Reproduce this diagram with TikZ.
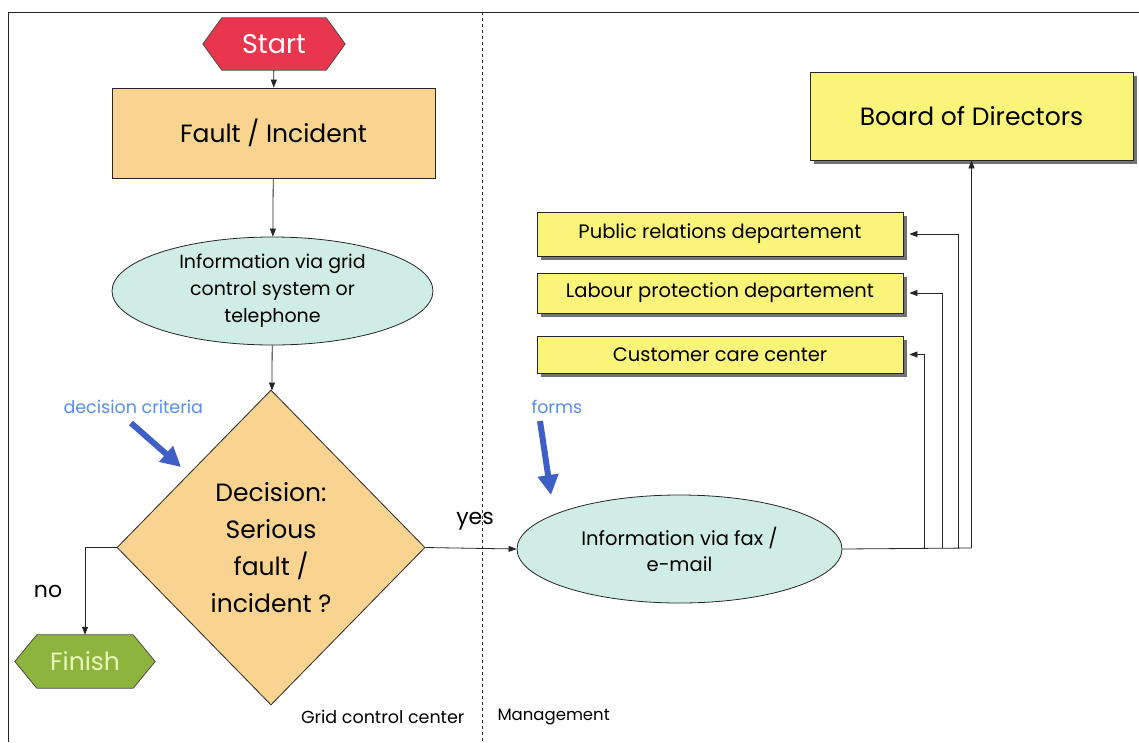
\documentclass[tikz,border=0pt]{standalone}
\usepackage{fontspec}
\setmainfont{Poppins}
\usetikzlibrary{shapes.geometric,arrows.meta,shadows,backgrounds,calc}

\definecolor{startred}{HTML}{E8364F}
\definecolor{faultor}{HTML}{F9D491}
\definecolor{infoteal}{HTML}{CFEDE4}
\definecolor{finishgreen}{HTML}{8DB43C}
\definecolor{finishtext}{HTML}{EAF9B8}
\definecolor{deptyellow}{HTML}{FAF47A}
\definecolor{noteblue}{HTML}{5B8DEB}
\definecolor{pointblue}{HTML}{3F5FC8}

\begin{document}
\begin{tikzpicture}[x=1pt,y=-1pt,
  outline/.style={draw=black!85, line width=0.8pt},
  conn/.style={draw=black!85, line width=0.8pt, -{Triangle[length=8pt,width=6pt]}},
  plain/.style={draw=black!85, line width=0.8pt},
  hexnode/.style={inner sep=0pt},
  faultbox/.style={outline, fill=faultor, inner sep=0pt},
  infoell/.style={outline, ellipse, fill=infoteal, inner sep=0pt, align=center},
  deptbox/.style={outline, fill=deptyellow, inner sep=0pt,
    drop shadow={shadow xshift=4pt, shadow yshift=-4pt, fill=black!55, opacity=1}},
  pointer/.style={draw=pointblue, line width=6pt, -{Triangle[length=20pt,width=20pt]}},
  note/.style={text=noteblue, font=\fontsize{17.5}{20}\selectfont}
]
\useasboundingbox (0,0) rectangle (1139,742);

% page frame and column divider
\draw[black!85, line width=1pt] (8,742) -- (8,12) -- (1139,12);
\draw[black!85, line width=0.8pt, dashed] (482,12) -- (482,742);

% start / finish terminals
\node[hexnode, minimum width=142, minimum height=52, text=white,
  font=\fontsize{27}{30}\selectfont] (start) at (274,44) {Start};
\node[hexnode, minimum width=140, minimum height=53, text=finishtext,
  font=\fontsize{25}{28}\selectfont] (finish) at (85,661.5) {Finish};
\begin{scope}[on background layer]
  \fill[white] (0,0) rectangle (1139,742);
  \filldraw[fill=startred, draw=black!70, line width=0.8pt]
    (start.west) -- ($(start.north west)+(19,0)$) -- ($(start.north east)+(-19,0)$)
    -- (start.east) -- ($(start.south east)+(-19,0)$) -- ($(start.south west)+(19,0)$) -- cycle;
  \filldraw[fill=finishgreen, draw=black!70, line width=0.8pt]
    (finish.west) -- ($(finish.north west)+(22,0)$) -- ($(finish.north east)+(-22,0)$)
    -- (finish.east) -- ($(finish.south east)+(-22,0)$) -- ($(finish.south west)+(22,0)$) -- cycle;
\end{scope}

% grid control centre column
\node[faultbox, minimum width=323, minimum height=90, font=\fontsize{25}{28}\selectfont]
  (fault) at (273.5,133) {Fault / Incident};
\node[infoell, minimum width=321, minimum height=108, font=\fontsize{19}{27}\selectfont]
  (grid) at (272.5,291) {Information via grid\\control system or\\telephone};
\node[outline, diamond, fill=faultor, minimum width=308, minimum height=315, inner sep=0pt,
  align=center, font=\fontsize{25}{37}\selectfont]
  (dec) at (271,547.5) {Decision:\\Serious\\fault /\\incident ?};

\draw[conn] (start) -- (fault);
\draw[conn] (fault) -- (grid);
\draw[conn] (grid) -- (dec);
\draw[conn] (dec.west) -| (finish.north);
\node[font=\fontsize{22}{26}\selectfont] (nolbl) at (48,591) {no};

% management column
\node[infoell, minimum width=325, minimum height=108, font=\fontsize{19.5}{26}\selectfont]
  (fax) at (679.5,549) {Information via fax /\\e-mail};
\draw[conn] (dec.east) -- (fax.west);
\node[font=\fontsize{22}{26}\selectfont] (yeslbl) at (475,521) {yes};

\node[deptbox, minimum width=323, minimum height=88, font=\fontsize{25}{28}\selectfont]
  (board) at (971.5,116) {Board of Directors};
\node[deptbox, minimum width=366, minimum height=44, font=\fontsize{19.5}{22}\selectfont]
  (pr) at (720,234) {Public relations departement};
\node[deptbox, minimum width=366, minimum height=40, font=\fontsize{19.5}{22}\selectfont]
  (lab) at (720,293) {Labour protection departement};
\node[deptbox, minimum width=366, minimum height=37, font=\fontsize{19.5}{22}\selectfont]
  (cust) at (720,354.5) {Customer care center};

% distribution from the fax / e-mail step
\coordinate (jc) at (924,548);
\coordinate (jl) at (942,548);
\coordinate (jp) at (958,548);
\coordinate (jb) at (971.5,548);
\draw[plain] (fax.east) -- (jb);
\draw[conn] (jc) -- (jc |- cust.east) -- ($(cust.east)+(6,0)$);
\draw[conn] (jl) -- (jl |- lab.east) -- ($(lab.east)+(6,0)$);
\draw[conn] (jp) -- (jp |- pr.east) -- ($(pr.east)+(6,0)$);
\draw[conn] (jb) -- (board.south);

% inputs
\node[note, anchor=west] (crit) at (60,407) {decision criteria};
\coordinate (critfrom) at (131,423);
\coordinate (critto) at (181,467);
\draw[pointer] (critfrom) -- (critto);
\node[note, anchor=west] (forms) at (528,407) {forms};
\coordinate (formsfrom) at (540,421);
\coordinate (formsto) at (551,495);
\draw[pointer] (formsfrom) -- (formsto);

% column captions
\node[font=\fontsize{17.5}{20}\selectfont, anchor=east] (gcc) at (468,717) {Grid control center};
\node[font=\fontsize{16.5}{19}\selectfont, anchor=west] (mgmt) at (494,717) {Management};
\end{tikzpicture}
\end{document}
